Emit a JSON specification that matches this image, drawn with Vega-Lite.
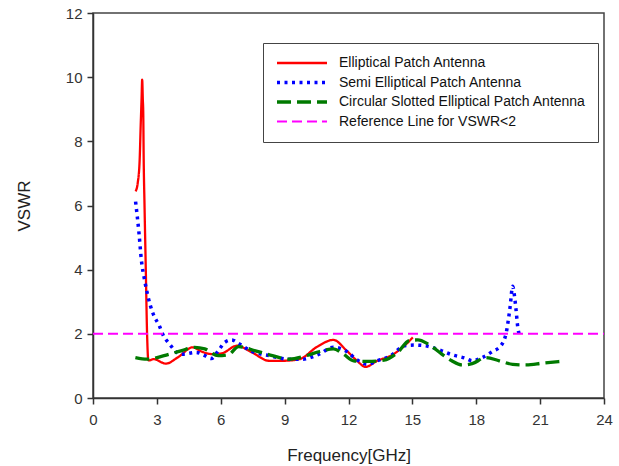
{
  "$schema": "https://vega.github.io/schema/vega-lite/v6.json",
  "width": 511,
  "height": 385,
  "autosize": {"type": "none"},
  "padding": {"left": 93, "top": 13, "right": 15, "bottom": 68},
  "background": "white",
  "config": {
    "font": "Liberation Sans",
    "view": {"stroke": "#444444", "strokeWidth": 1.5},
    "axis": {
      "grid": false,
      "domainColor": "#333333",
      "domainWidth": 1.5,
      "tickColor": "#333333",
      "tickWidth": 1.5,
      "tickSize": 6,
      "labelColor": "#333333",
      "labelFontSize": 15,
      "labelFont": "Liberation Sans",
      "titleFont": "Liberation Sans",
      "titleFontSize": 17,
      "titleFontWeight": "normal",
      "titleColor": "#222222"
    }
  },
  "data": {
    "values": [
      {"series": "Elliptical Patch Antenna", "f": 2.0, "v": 6.44},
      {"series": "Elliptical Patch Antenna", "f": 2.1, "v": 6.7},
      {"series": "Elliptical Patch Antenna", "f": 2.19, "v": 7.4},
      {"series": "Elliptical Patch Antenna", "f": 2.24, "v": 8.5},
      {"series": "Elliptical Patch Antenna", "f": 2.28, "v": 9.3},
      {"series": "Elliptical Patch Antenna", "f": 2.31, "v": 9.92},
      {"series": "Elliptical Patch Antenna", "f": 2.34, "v": 9.3},
      {"series": "Elliptical Patch Antenna", "f": 2.36, "v": 8.9},
      {"series": "Elliptical Patch Antenna", "f": 2.38, "v": 7.5},
      {"series": "Elliptical Patch Antenna", "f": 2.42, "v": 6.0},
      {"series": "Elliptical Patch Antenna", "f": 2.48, "v": 4.0},
      {"series": "Elliptical Patch Antenna", "f": 2.54, "v": 2.0},
      {"series": "Elliptical Patch Antenna", "f": 2.6, "v": 1.17},
      {"series": "Elliptical Patch Antenna", "f": 2.86, "v": 1.21},
      {"series": "Elliptical Patch Antenna", "f": 3.42, "v": 1.07},
      {"series": "Elliptical Patch Antenna", "f": 3.97, "v": 1.26},
      {"series": "Elliptical Patch Antenna", "f": 4.69, "v": 1.58},
      {"series": "Elliptical Patch Antenna", "f": 5.09, "v": 1.45},
      {"series": "Elliptical Patch Antenna", "f": 5.56, "v": 1.37},
      {"series": "Elliptical Patch Antenna", "f": 6.04, "v": 1.39},
      {"series": "Elliptical Patch Antenna", "f": 6.76, "v": 1.63},
      {"series": "Elliptical Patch Antenna", "f": 7.47, "v": 1.42},
      {"series": "Elliptical Patch Antenna", "f": 8.27, "v": 1.16},
      {"series": "Elliptical Patch Antenna", "f": 8.9, "v": 1.16},
      {"series": "Elliptical Patch Antenna", "f": 9.7, "v": 1.21},
      {"series": "Elliptical Patch Antenna", "f": 10.49, "v": 1.58},
      {"series": "Elliptical Patch Antenna", "f": 11.29, "v": 1.81},
      {"series": "Elliptical Patch Antenna", "f": 11.92, "v": 1.47},
      {"series": "Elliptical Patch Antenna", "f": 12.4, "v": 1.16},
      {"series": "Elliptical Patch Antenna", "f": 12.8, "v": 0.97},
      {"series": "Elliptical Patch Antenna", "f": 13.35, "v": 1.16},
      {"series": "Elliptical Patch Antenna", "f": 13.99, "v": 1.32},
      {"series": "Elliptical Patch Antenna", "f": 14.63, "v": 1.63},
      {"series": "Elliptical Patch Antenna", "f": 15.02, "v": 1.89},

      {"series": "Semi Elliptical Patch Antenna", "f": 2.0, "v": 6.12},
      {"series": "Semi Elliptical Patch Antenna", "f": 2.16, "v": 5.14},
      {"series": "Semi Elliptical Patch Antenna", "f": 2.27, "v": 4.31},
      {"series": "Semi Elliptical Patch Antenna", "f": 2.42, "v": 3.69},
      {"series": "Semi Elliptical Patch Antenna", "f": 2.58, "v": 3.17},
      {"series": "Semi Elliptical Patch Antenna", "f": 2.81, "v": 2.65},
      {"series": "Semi Elliptical Patch Antenna", "f": 3.13, "v": 2.23},
      {"series": "Semi Elliptical Patch Antenna", "f": 3.31, "v": 1.94},
      {"series": "Semi Elliptical Patch Antenna", "f": 3.56, "v": 1.71},
      {"series": "Semi Elliptical Patch Antenna", "f": 4.13, "v": 1.36},
      {"series": "Semi Elliptical Patch Antenna", "f": 4.85, "v": 1.42},
      {"series": "Semi Elliptical Patch Antenna", "f": 5.25, "v": 1.32},
      {"series": "Semi Elliptical Patch Antenna", "f": 5.56, "v": 1.23},
      {"series": "Semi Elliptical Patch Antenna", "f": 5.88, "v": 1.47},
      {"series": "Semi Elliptical Patch Antenna", "f": 6.2, "v": 1.74},
      {"series": "Semi Elliptical Patch Antenna", "f": 6.52, "v": 1.81},
      {"series": "Semi Elliptical Patch Antenna", "f": 6.84, "v": 1.7},
      {"series": "Semi Elliptical Patch Antenna", "f": 7.47, "v": 1.45},
      {"series": "Semi Elliptical Patch Antenna", "f": 8.27, "v": 1.32},
      {"series": "Semi Elliptical Patch Antenna", "f": 9.22, "v": 1.21},
      {"series": "Semi Elliptical Patch Antenna", "f": 9.86, "v": 1.21},
      {"series": "Semi Elliptical Patch Antenna", "f": 10.57, "v": 1.35},
      {"series": "Semi Elliptical Patch Antenna", "f": 11.29, "v": 1.58},
      {"series": "Semi Elliptical Patch Antenna", "f": 11.92, "v": 1.45},
      {"series": "Semi Elliptical Patch Antenna", "f": 12.4, "v": 1.19},
      {"series": "Semi Elliptical Patch Antenna", "f": 12.88, "v": 1.05},
      {"series": "Semi Elliptical Patch Antenna", "f": 13.35, "v": 1.16},
      {"series": "Semi Elliptical Patch Antenna", "f": 13.99, "v": 1.32},
      {"series": "Semi Elliptical Patch Antenna", "f": 14.63, "v": 1.63},
      {"series": "Semi Elliptical Patch Antenna", "f": 15.1, "v": 1.65},
      {"series": "Semi Elliptical Patch Antenna", "f": 15.58, "v": 1.63},
      {"series": "Semi Elliptical Patch Antenna", "f": 16.38, "v": 1.47},
      {"series": "Semi Elliptical Patch Antenna", "f": 16.85, "v": 1.35},
      {"series": "Semi Elliptical Patch Antenna", "f": 17.49, "v": 1.24},
      {"series": "Semi Elliptical Patch Antenna", "f": 17.81, "v": 1.16},
      {"series": "Semi Elliptical Patch Antenna", "f": 18.28, "v": 1.26},
      {"series": "Semi Elliptical Patch Antenna", "f": 18.76, "v": 1.45},
      {"series": "Semi Elliptical Patch Antenna", "f": 19.16, "v": 1.63},
      {"series": "Semi Elliptical Patch Antenna", "f": 19.43, "v": 2.11},
      {"series": "Semi Elliptical Patch Antenna", "f": 19.59, "v": 2.84},
      {"series": "Semi Elliptical Patch Antenna", "f": 19.71, "v": 3.48},
      {"series": "Semi Elliptical Patch Antenna", "f": 19.79, "v": 3.21},
      {"series": "Semi Elliptical Patch Antenna", "f": 19.87, "v": 2.74},
      {"series": "Semi Elliptical Patch Antenna", "f": 19.95, "v": 2.21},
      {"series": "Semi Elliptical Patch Antenna", "f": 20.03, "v": 1.95},

      {"series": "Circular Slotted Elliptical Patch Antenna", "f": 1.99, "v": 1.26},
      {"series": "Circular Slotted Elliptical Patch Antenna", "f": 2.54, "v": 1.21},
      {"series": "Circular Slotted Elliptical Patch Antenna", "f": 3.34, "v": 1.32},
      {"series": "Circular Slotted Elliptical Patch Antenna", "f": 4.13, "v": 1.47},
      {"series": "Circular Slotted Elliptical Patch Antenna", "f": 4.77, "v": 1.58},
      {"series": "Circular Slotted Elliptical Patch Antenna", "f": 5.25, "v": 1.53},
      {"series": "Circular Slotted Elliptical Patch Antenna", "f": 5.88, "v": 1.32},
      {"series": "Circular Slotted Elliptical Patch Antenna", "f": 6.36, "v": 1.35},
      {"series": "Circular Slotted Elliptical Patch Antenna", "f": 6.84, "v": 1.6},
      {"series": "Circular Slotted Elliptical Patch Antenna", "f": 7.63, "v": 1.47},
      {"series": "Circular Slotted Elliptical Patch Antenna", "f": 8.43, "v": 1.32},
      {"series": "Circular Slotted Elliptical Patch Antenna", "f": 9.22, "v": 1.21},
      {"series": "Circular Slotted Elliptical Patch Antenna", "f": 10.02, "v": 1.32},
      {"series": "Circular Slotted Elliptical Patch Antenna", "f": 10.65, "v": 1.45},
      {"series": "Circular Slotted Elliptical Patch Antenna", "f": 11.29, "v": 1.53},
      {"series": "Circular Slotted Elliptical Patch Antenna", "f": 11.76, "v": 1.37},
      {"series": "Circular Slotted Elliptical Patch Antenna", "f": 12.24, "v": 1.16},
      {"series": "Circular Slotted Elliptical Patch Antenna", "f": 12.88, "v": 1.14},
      {"series": "Circular Slotted Elliptical Patch Antenna", "f": 13.67, "v": 1.18},
      {"series": "Circular Slotted Elliptical Patch Antenna", "f": 14.31, "v": 1.42},
      {"series": "Circular Slotted Elliptical Patch Antenna", "f": 14.86, "v": 1.79},
      {"series": "Circular Slotted Elliptical Patch Antenna", "f": 15.26, "v": 1.81},
      {"series": "Circular Slotted Elliptical Patch Antenna", "f": 15.74, "v": 1.68},
      {"series": "Circular Slotted Elliptical Patch Antenna", "f": 16.38, "v": 1.37},
      {"series": "Circular Slotted Elliptical Patch Antenna", "f": 16.85, "v": 1.16},
      {"series": "Circular Slotted Elliptical Patch Antenna", "f": 17.33, "v": 1.03},
      {"series": "Circular Slotted Elliptical Patch Antenna", "f": 17.81, "v": 1.07},
      {"series": "Circular Slotted Elliptical Patch Antenna", "f": 18.44, "v": 1.26},
      {"series": "Circular Slotted Elliptical Patch Antenna", "f": 19.08, "v": 1.16},
      {"series": "Circular Slotted Elliptical Patch Antenna", "f": 19.71, "v": 1.05},
      {"series": "Circular Slotted Elliptical Patch Antenna", "f": 20.35, "v": 1.03},
      {"series": "Circular Slotted Elliptical Patch Antenna", "f": 21.14, "v": 1.09},
      {"series": "Circular Slotted Elliptical Patch Antenna", "f": 21.94, "v": 1.14},

      {"series": "Reference Line for VSWR<2", "f": 0, "v": 2},
      {"series": "Reference Line for VSWR<2", "f": 24, "v": 2}
    ]
  },
  "mark": {"type": "line", "interpolate": "monotone"},
  "encoding": {
    "x": {
      "field": "f",
      "type": "quantitative",
      "scale": {"domain": [0, 24], "nice": false, "zero": false},
      "axis": {
        "values": [0, 3, 6, 9, 12, 15, 18, 21, 24],
        "title": "Frequency[GHz]",
        "labelPadding": 8,
        "titlePadding": 20,
        "labelFlush": false
      }
    },
    "y": {
      "field": "v",
      "type": "quantitative",
      "scale": {"domain": [0, 12], "nice": false},
      "axis": {
        "values": [0, 2, 4, 6, 8, 10, 12],
        "title": "VSWR",
        "labelPadding": 5,
        "titlePadding": 32,
        "labelFlush": false
      }
    },
    "color": {
      "field": "series",
      "type": "nominal",
      "scale": {
        "domain": ["Elliptical Patch Antenna", "Semi Elliptical Patch Antenna", "Circular Slotted Elliptical Patch Antenna", "Reference Line for VSWR<2"],
        "range": ["#ff0000", "#0000ff", "#007a00", "#ff00ff"]
      },
      "legend": {
        "orient": "none",
        "legendX": 170,
        "legendY": 30,
        "title": null,
        "padding": 12,
        "strokeColor": "#444444",
        "fillColor": "white",
        "symbolType": "stroke",
        "symbolSize": 2500,
        "clipHeight": 16,
        "rowPadding": 3.5,
        "labelFontSize": 14,
        "labelFont": "Liberation Sans",
        "labelColor": "#111111",
        "labelOffset": 10,
        "labelLimit": 400
      }
    },
    "strokeDash": {
      "field": "series",
      "type": "nominal",
      "scale": {
        "domain": ["Elliptical Patch Antenna", "Semi Elliptical Patch Antenna", "Circular Slotted Elliptical Patch Antenna", "Reference Line for VSWR<2"],
        "range": [[1, 0], [3, 4.5], [14, 6], [10, 5]]
      }
    },
    "strokeWidth": {
      "field": "series",
      "type": "nominal",
      "scale": {
        "type": "ordinal",
        "domain": ["Elliptical Patch Antenna", "Semi Elliptical Patch Antenna", "Circular Slotted Elliptical Patch Antenna", "Reference Line for VSWR<2"],
        "range": [2.3, 3.5, 3.3, 2]
      }
    }
  }
}
